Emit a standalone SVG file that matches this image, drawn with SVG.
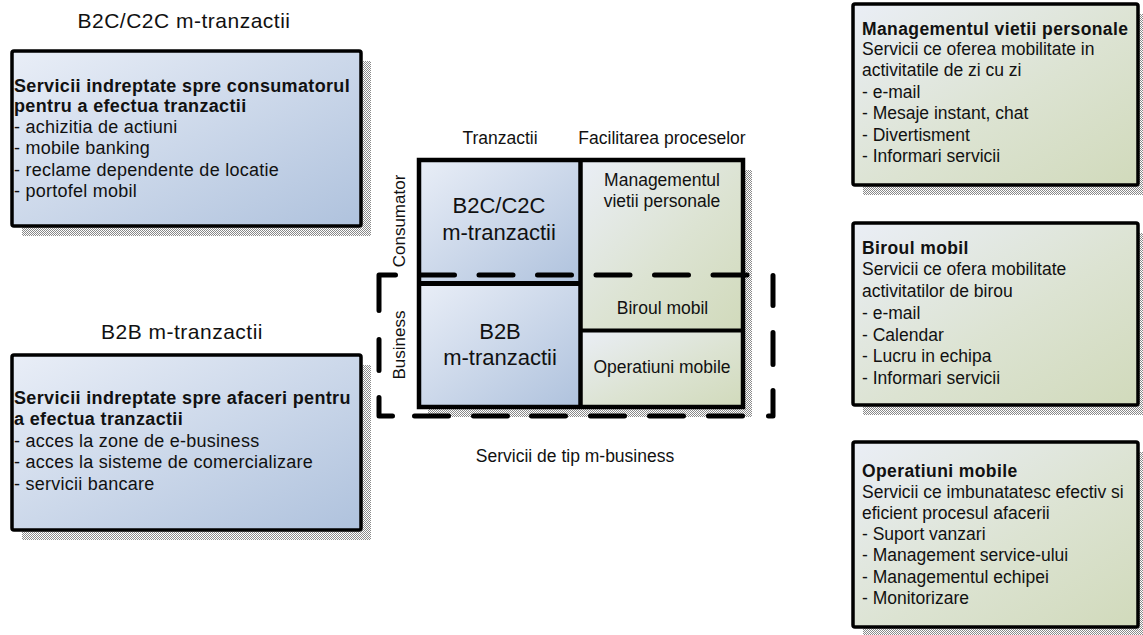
<svg xmlns="http://www.w3.org/2000/svg" width="1143" height="635" viewBox="0 0 1143 635">
  <defs>
    <linearGradient id="blueFill" x1="0" y1="0" x2="1" y2="1">
      <stop offset="0" stop-color="#e9eef7"/>
      <stop offset="1" stop-color="#afc2dd"/>
    </linearGradient>
    <linearGradient id="greenFill" x1="0" y1="0" x2="1" y2="1">
      <stop offset="0" stop-color="#eaeef6"/>
      <stop offset="0.55" stop-color="#dce3d2"/>
      <stop offset="1" stop-color="#d1dabb"/>
    </linearGradient>
    <pattern id="shadowDots" patternUnits="userSpaceOnUse" width="2" height="2">
      <rect width="2" height="2" fill="#ffffff"/>
      <rect width="1" height="1" fill="#8a8a8a"/>
      <rect x="1" y="1" width="1" height="1" fill="#8a8a8a"/>
    </pattern>
    <style>
      text { font-family: "Liberation Sans", Arial, sans-serif; fill: #111111; }
      .box { stroke: #000000; stroke-width: 3.5; }
      .shadow { fill: url(#shadowDots); }
      .title { font-size: 21px; letter-spacing: 0.5px; }
      .body { font-size: 18px; letter-spacing: 0.25px; }
      .body .b { font-weight: bold; letter-spacing: 0.35px; }
      .side { font-size: 17.5px; letter-spacing: 0; }
      .side .b { font-weight: bold; letter-spacing: 0.4px; }
      .lbl { font-size: 17.5px; }
      .big { font-size: 22px; }
      .axis { font-size: 17px; }
      .grid { fill: none; stroke: #000000; }
      .dash { fill: none; stroke: #000000; stroke-width: 5; stroke-linecap: round; stroke-linejoin: round; }
    </style>
  </defs>

  <rect width="1143" height="635" fill="#ffffff"/>

  <!-- B2C / C2C description panel -->
  <g id="b2c-panel">
    <text class="title" x="184" y="28" text-anchor="middle">B2C/C2C m-tranzactii</text>
    <rect class="shadow" x="22" y="61" width="349" height="175"/>
    <rect class="box" x="12" y="51" width="349" height="175" rx="2" fill="url(#blueFill)"/>
    <text class="body">
      <tspan class="b" x="14" y="91.5">Servicii indreptate spre consumatorul</tspan>
      <tspan class="b" x="14" y="111.5">pentru a efectua tranzactii</tspan>
      <tspan x="14" y="132.5">- achizitia de actiuni</tspan>
      <tspan x="14" y="154">- mobile banking</tspan>
      <tspan x="14" y="175.5">- reclame dependente de locatie</tspan>
      <tspan x="14" y="197">- portofel mobil</tspan>
    </text>
  </g>

  <!-- B2B description panel -->
  <g id="b2b-panel">
    <text class="title" x="182" y="339" text-anchor="middle">B2B m-tranzactii</text>
    <rect class="shadow" x="22" y="365" width="349" height="175"/>
    <rect class="box" x="12" y="355" width="349" height="175" rx="2" fill="url(#blueFill)"/>
    <text class="body">
      <tspan class="b" x="14" y="404">Servicii indreptate spre afaceri pentru</tspan>
      <tspan class="b" x="14" y="424.5">a efectua tranzactii</tspan>
      <tspan x="14" y="446.5">- acces la zone de e-business</tspan>
      <tspan x="14" y="468">- acces la sisteme de comercializare</tspan>
      <tspan x="14" y="489.5">- servicii bancare</tspan>
    </text>
  </g>

  <!-- m-business matrix -->
  <g id="matrix">
    <rect class="shadow" x="428" y="170" width="324" height="247"/>
    <rect id="cell-b2c" x="419" y="160" width="161.5" height="123.5" fill="url(#blueFill)"/>
    <rect id="cell-b2b" x="419" y="283.5" width="161.5" height="123.5" fill="url(#blueFill)"/>
    <rect id="cell-personal" x="580.5" y="160" width="162.5" height="170.5" fill="url(#greenFill)"/>
    <rect id="cell-operations" x="580.5" y="330.5" width="162.5" height="76.5" fill="url(#greenFill)"/>
    <rect class="grid" x="419" y="160" width="324" height="247" stroke-width="4.5"/>
    <path class="grid" d="M580.5,160V407" stroke-width="4.5"/>
    <path class="grid" d="M419,283.5H580.5" stroke-width="5"/>
    <path class="grid" d="M580.5,330.5H743" stroke-width="4.2"/>

    <text class="lbl" x="500" y="144" text-anchor="middle">Tranzactii</text>
    <text class="lbl" x="662" y="143.5" text-anchor="middle">Facilitarea proceselor</text>

    <text class="big" x="499" y="213" text-anchor="middle">B2C/C2C</text>
    <text class="big" x="499" y="240" text-anchor="middle">m-tranzactii</text>
    <text class="lbl" x="662" y="186" text-anchor="middle">Managementul</text>
    <text class="lbl" x="662" y="206.5" text-anchor="middle">vietii personale</text>
    <text class="big" x="500" y="338.5" text-anchor="middle">B2B</text>
    <text class="big" x="500" y="365" text-anchor="middle">m-tranzactii</text>
    <text class="lbl" x="662.5" y="314" text-anchor="middle">Biroul mobil</text>
    <text class="lbl" x="662" y="373" text-anchor="middle">Operatiuni mobile</text>

    <text class="axis" transform="translate(405,221) rotate(-90)" text-anchor="middle">Consumator</text>
    <text class="axis" transform="translate(405,345) rotate(-90)" text-anchor="middle">Business</text>

    <text class="lbl" x="575" y="462" text-anchor="middle">Servicii de tip m-business</text>
  </g>

  <!-- dashed outline of the business area -->
  <g id="business-boundary">
    <path class="dash" d="M379,310.5V275H395.5
      M420.5,275H454.5 M479,275H513 M537.5,275H571.5 M596,275H630 M654.5,275H688.5 M713,275H747
      M773,275.5V305.5 M773,332.5V364.5 M773,390.5V416H768.5
      M708.5,416H742.5 M649.5,416H683.5 M590.5,416H624.5 M531.5,416H565.5 M473.5,416H507.5 M414.5,416H448.5
      M379,397.5V416H392.5 M379,339.5V370.5"/>
  </g>

  <!-- right-hand service descriptions -->
  <g id="personal-panel">
    <rect class="shadow" x="863" y="14" width="285" height="181"/>
    <rect class="box" x="853" y="4" width="285" height="181" rx="2" fill="url(#greenFill)"/>
    <text class="side">
      <tspan class="b" x="862" y="35">Managementul vietii personale</tspan>
      <tspan x="862" y="55">Servicii ce oferea mobilitate in</tspan>
      <tspan x="862" y="76">activitatile de zi cu zi</tspan>
      <tspan x="862" y="98">- e-mail</tspan>
      <tspan x="862" y="119">- Mesaje instant, chat</tspan>
      <tspan x="862" y="140.5">- Divertisment</tspan>
      <tspan x="862" y="162">- Informari servicii</tspan>
    </text>
  </g>

  <g id="office-panel">
    <rect class="shadow" x="863" y="233" width="285" height="182"/>
    <rect class="box" x="853" y="223" width="285" height="182" rx="2" fill="url(#greenFill)"/>
    <text class="side">
      <tspan class="b" x="862" y="254">Biroul mobil</tspan>
      <tspan x="862" y="275">Servicii ce ofera mobilitate</tspan>
      <tspan x="862" y="297">activitatilor de birou</tspan>
      <tspan x="862" y="319">- e-mail</tspan>
      <tspan x="862" y="340.5">- Calendar</tspan>
      <tspan x="862" y="362">- Lucru in echipa</tspan>
      <tspan x="862" y="384">- Informari servicii</tspan>
    </text>
  </g>

  <g id="operations-panel">
    <rect class="shadow" x="863" y="452" width="285" height="185"/>
    <rect class="box" x="853" y="442" width="285" height="185" rx="2" fill="url(#greenFill)"/>
    <text class="side">
      <tspan class="b" x="862" y="477">Operatiuni mobile</tspan>
      <tspan x="862" y="497.5">Servicii ce imbunatatesc efectiv si</tspan>
      <tspan x="862" y="518.5">eficient procesul afacerii</tspan>
      <tspan x="862" y="540">- Suport vanzari</tspan>
      <tspan x="862" y="561">- Management service-ului</tspan>
      <tspan x="862" y="582.5">- Managementul echipei</tspan>
      <tspan x="862" y="604">- Monitorizare</tspan>
    </text>
  </g>
</svg>
